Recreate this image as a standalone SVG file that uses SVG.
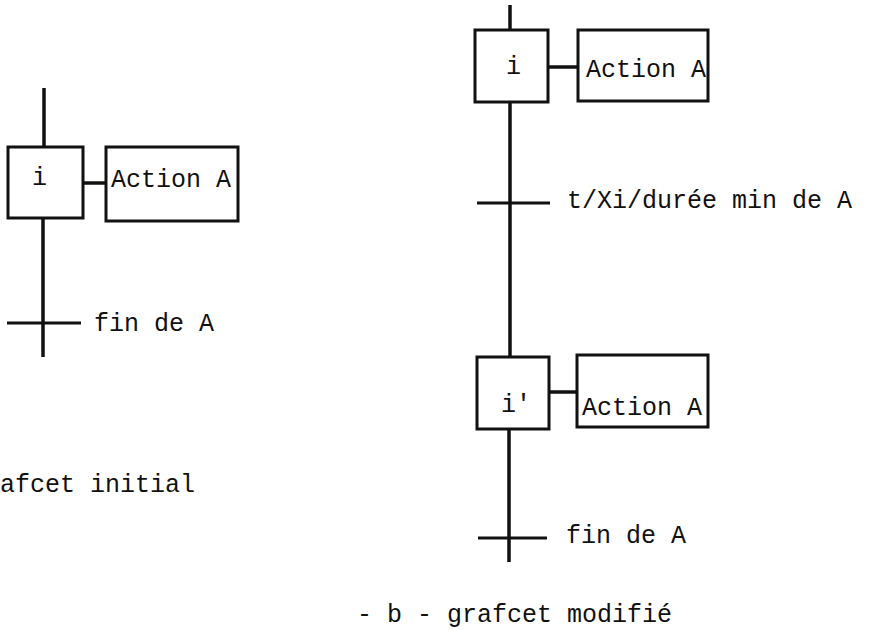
<svg xmlns="http://www.w3.org/2000/svg" width="869" height="630" viewBox="0 0 869 630">
<style>
.box{fill:#fff;stroke:#111;stroke-width:3}
.ln{stroke:#111;stroke-width:3.5;fill:none}
.tr{stroke:#111;stroke-width:2.8;fill:none}
.lk{stroke:#111;stroke-width:3.5;fill:none}
text{font-family:"Liberation Mono","Courier New",monospace;font-size:25px;fill:#111}
</style>
<rect width="869" height="630" fill="#fff"/>
<g id="connectors">
<line class="ln" x1="44" y1="88" x2="44" y2="147"/>
<line class="ln" x1="43" y1="218" x2="43" y2="357"/>
<line class="tr" x1="7" y1="323" x2="81" y2="323"/>
<line class="lk" x1="83" y1="183" x2="106" y2="183"/>
<line class="ln" x1="510" y1="5" x2="510" y2="30"/>
<line class="ln" x1="510" y1="102" x2="510" y2="357"/>
<line class="tr" x1="477" y1="203" x2="550" y2="203"/>
<line class="lk" x1="548" y1="67" x2="578" y2="67"/>
<line class="ln" x1="509" y1="429" x2="509" y2="562"/>
<line class="tr" x1="478" y1="538" x2="547" y2="538"/>
<line class="lk" x1="549" y1="392" x2="577" y2="392"/>
</g>
<g id="step-i-left">
<rect class="box" x="8" y="147" width="75" height="71"/>
<text x="32" y="185">i</text>
</g>
<g id="action-left">
<rect class="box" x="106" y="147" width="132" height="74"/>
<text x="111" y="187">Action A</text>
</g>
<g id="trans-left">
<text x="94" y="331">fin de A</text>
</g>
<g id="caption-left">
<text x="0" y="492">afcet initial</text>
</g>
<g id="step-i-right">
<rect class="box" x="475" y="30" width="73" height="72"/>
<text x="506" y="74">i</text>
</g>
<g id="action-right-1">
<rect class="box" x="578" y="30" width="130" height="71"/>
<text x="586" y="77">Action A</text>
</g>
<g id="trans-right-1">
<text x="567" y="208">t/Xi/durée min de A</text>
</g>
<g id="step-i-prime">
<rect class="box" x="477" y="357" width="72" height="72"/>
<text x="501" y="412">i'</text>
</g>
<g id="action-right-2">
<rect class="box" x="577" y="355" width="131" height="72"/>
<text x="582" y="415">Action A</text>
</g>
<g id="trans-right-2">
<text x="566" y="543">fin de A</text>
</g>
<g id="caption-right">
<text x="357" y="622">- b - grafcet modifié</text>
</g>
</svg>
